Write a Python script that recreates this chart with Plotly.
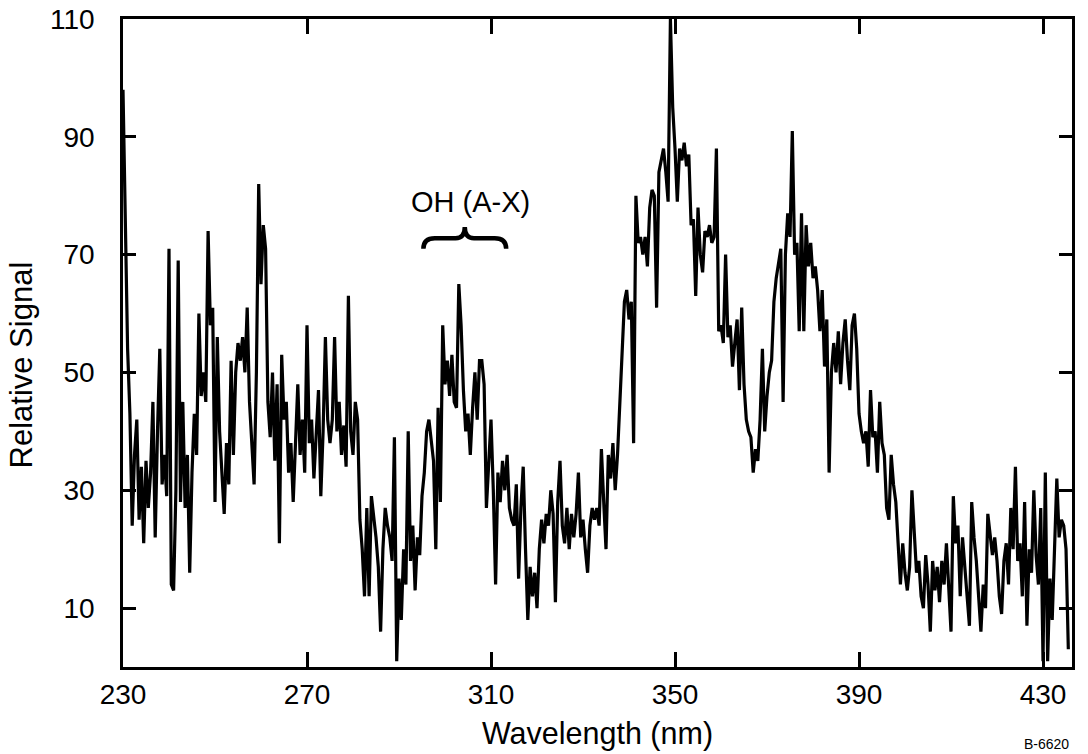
import plotly.graph_objects as go

# ---- data ----
wl_start = 230.0   # nm, first sample
wl_step = 0.5      # nm between samples

signal = [
    98, 75, 54, 43, 24, 36, 42, 25, 34, 21,   # 230.0-234.5
    35, 27, 33, 45, 22, 40, 54, 31, 36, 29,   # 235.0-239.5
    71, 14, 13, 30, 69, 28, 45, 27, 36, 16,   # 240.0-244.5
    33, 43, 36, 60, 46, 50, 45, 74, 58, 61,   # 245.0-249.5
    28, 56, 40, 33, 26, 38, 31, 52, 36, 50,   # 250.0-254.5
    55, 52, 56, 50, 61, 45, 39, 31, 50, 82,   # 255.0-259.5
    65, 75, 71, 45, 39, 50, 35, 48, 21, 53,   # 260.0-264.5
    42, 45, 33, 38, 28, 40, 48, 36, 42, 33,   # 265.0-269.5
    58, 38, 42, 32, 40, 47, 29, 40, 56, 42,   # 270.0-274.5
    38, 42, 56, 40, 45, 36, 41, 34, 63, 40,   # 275.0-279.5
    36, 45, 42, 25, 20, 12, 27, 12, 29, 26,   # 280.0-284.5
    22, 17, 6, 20, 27, 24, 22, 18, 39, 1,     # 285.0-289.5
    15, 8, 20, 14, 40, 18, 24, 13, 22, 19,    # 290.0-294.5
    29, 33, 40, 42, 38, 35, 20, 44, 28, 58,   # 295.0-299.5
    48, 52, 46, 53, 45, 44, 65, 58, 47, 40,   # 300.0-304.5
    43, 36, 44, 50, 42, 52, 52, 48, 27, 36,   # 305.0-309.5
    42, 30, 14, 33, 28, 35, 30, 36, 27, 25,   # 310.0-314.5
    24, 31, 15, 27, 34, 20, 8, 17, 12, 16,    # 315.0-319.5
    10, 20, 25, 21, 26, 24, 30, 26, 11, 28,   # 320.0-324.5
    35, 24, 21, 27, 20, 26, 22, 26, 33, 22,   # 325.0-329.5
    25, 20, 16, 24, 27, 25, 27, 24, 37, 28,   # 330.0-334.5
    20, 36, 32, 38, 30, 36, 45, 53, 62, 64,   # 335.0-339.5
    59, 62, 38, 80, 72, 73, 70, 73, 68, 78,   # 340.0-344.5
    81, 80, 61, 84, 86, 88, 84, 79, 110, 95,  # 345.0-349.5
    88, 79, 88, 86, 89, 85, 87, 75, 76, 63,   # 350.0-354.5
    78, 70, 67, 74, 73, 75, 72, 73, 88, 57,   # 355.0-359.5
    58, 55, 70, 56, 58, 51, 55, 59, 47, 61,   # 360.0-364.5
    48, 42, 40, 39, 33, 37, 35, 42, 54, 40,   # 365.0-369.5
    46, 50, 52, 62, 66, 69, 71, 45, 70, 77,   # 370.0-374.5
    73, 91, 70, 72, 57, 77, 57, 75, 68, 72,   # 375.0-379.5
    66, 68, 64, 57, 64, 51, 59, 33, 50, 55,   # 380.0-384.5
    50, 57, 48, 55, 59, 52, 47, 58, 60, 54,   # 385.0-389.5
    43, 40, 38, 40, 34, 47, 39, 40, 33, 45,   # 390.0-394.5
    38, 36, 27, 25, 36, 31, 28, 21, 14, 21,   # 395.0-399.5
    16, 13, 17, 30, 22, 16, 18, 12, 10, 19,   # 400.0-404.5
    14, 6, 18, 13, 17, 11, 18, 14, 21, 13,    # 405.0-409.5
    6, 29, 21, 24, 12, 22, 16, 12, 7, 28,     # 410.0-414.5
    22, 18, 12, 6, 14, 10, 26, 22, 19, 22,    # 415.0-419.5
    18, 12, 9, 18, 21, 14, 27, 20, 34, 18,    # 420.0-424.5
    21, 12, 28, 7, 20, 16, 30, 19, 14, 27,    # 425.0-429.5
    1, 33, 1, 15, 8, 20, 32, 22, 25, 24,      # 430.0-434.5
    20, 3,                                    # 435.0-435.5
]

x_tick_values = [230, 270, 310, 350, 390, 430]
y_tick_values = [10, 30, 50, 70, 90, 110]

x_title = "Wavelength (nm)"
y_title = "Relative Signal"
band_label = "OH (A-X)"
figure_code = "B-6620"

# brace under the OH label (data units)
brace_left, brace_right, brace_tip_x = 295.3, 313.3, 304.3
brace_end_y, brace_mid_y, brace_tip_y = 71.0, 72.8, 74.7

FONT = "Liberation Sans, Arial, Helvetica, sans-serif"

fig = go.Figure()
fig.add_trace(go.Scatter(
    x0=wl_start, dx=wl_step, y=signal, mode="lines",
    line=dict(color="black", width=3.2), hoverinfo="skip", showlegend=False,
))

brace_path = (
    f"M {brace_left},{brace_end_y} "
    f"Q {brace_left},{brace_mid_y} {brace_left + 2.5},{brace_mid_y} "
    f"L {brace_tip_x - 2.0},{brace_mid_y} "
    f"Q {brace_tip_x},{brace_mid_y} {brace_tip_x},{brace_tip_y} "
    f"Q {brace_tip_x},{brace_mid_y} {brace_tip_x + 2.0},{brace_mid_y} "
    f"L {brace_right - 2.5},{brace_mid_y} "
    f"Q {brace_right},{brace_mid_y} {brace_right},{brace_end_y}"
)
fig.add_shape(type="path", path=brace_path, xref="x", yref="y",
              line=dict(color="black", width=4.5))

fig.add_annotation(x=305.6, y=79.0, xref="x", yref="y", text=band_label,
                   showarrow=False, font=dict(family=FONT, size=29, color="black"))
fig.add_annotation(x=-0.107, y=0.466, xref="paper", yref="paper", text=y_title,
                   textangle=-90, showarrow=False, xanchor="center", yanchor="middle",
                   font=dict(family=FONT, size=31, color="black"))
fig.add_annotation(x=0.9985, y=-0.1335, xref="paper", yref="paper", text=figure_code,
                   showarrow=False, xanchor="right", yanchor="bottom",
                   font=dict(family=FONT, size=14, color="black"))

axis_common = dict(
    ticks="inside", tickwidth=2.5, tickcolor="black",
    showline=True, linewidth=2.5, linecolor="black", mirror="ticks",
    showgrid=False, zeroline=False, automargin=False,
    tickfont=dict(family=FONT, size=28, color="black"),
)

fig.update_xaxes(range=[230, 436.3], tickvals=x_tick_values, ticklen=15,
                 ticklabelstandoff=1,
                 title=dict(text=x_title, font=dict(family=FONT, size=30.5, color="black"), standoff=14),
                 **axis_common)
fig.update_yaxes(range=[0, 110], tickvals=y_tick_values, ticklen=13,
                 ticklabelstandoff=20, **axis_common)

fig.update_layout(
    width=1088, height=754,
    margin=dict(l=123, r=16, t=19, b=87, autoexpand=False),
    paper_bgcolor="white", plot_bgcolor="white",
    font=dict(family=FONT, color="black"),
    showlegend=False,
)

fig.write_html("out.html")
